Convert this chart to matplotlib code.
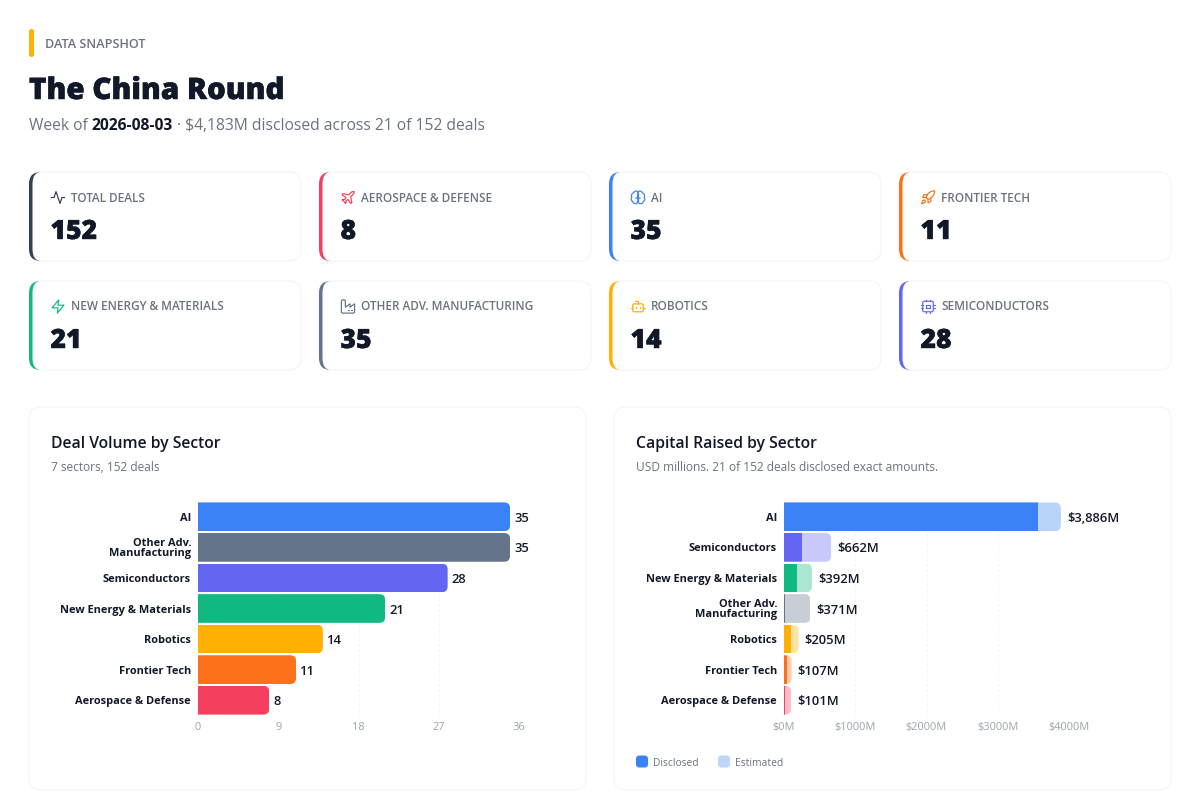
import re
import matplotlib
matplotlib.use("Agg")
import matplotlib.pyplot as plt
from matplotlib.patches import FancyBboxPatch, PathPatch
from matplotlib.path import Path
from matplotlib import patheffects as pe

plt.rcParams['font.family'] = ['Open Sans', 'DejaVu Sans']

# ---- data ----
title = "The China Round"
kicker = "DATA SNAPSHOT"
week = "2026-08-03"
sub_a = "Week of"
sub_b = "· $4,183M disclosed across 21 of 152 deals"

card_labels = ["TOTAL DEALS", "AEROSPACE & DEFENSE", "AI", "FRONTIER TECH",
               "NEW ENERGY & MATERIALS", "OTHER ADV. MANUFACTURING", "ROBOTICS", "SEMICONDUCTORS"]
card_values = [152, 8, 35, 11, 21, 35, 14, 28]
card_colors = ["#334155", "#f43f5e", "#3b82f6", "#f97316", "#10b981", "#64748b", "#ffb000", "#6366f1"]
card_icons = ["activity", "plane", "brain", "rocket", "zap", "factory", "bot", "cpu"]

vol_sectors = ["AI", "Other Adv.\nManufacturing", "Semiconductors", "New Energy & Materials",
               "Robotics", "Frontier Tech", "Aerospace & Defense"]
vol_values = [35, 35, 28, 21, 14, 11, 8]
vol_colors = ["#3b82f6", "#64748b", "#6366f1", "#10b981", "#ffb000", "#fb7019", "#f43f5e"]
vol_ticks = [0, 9, 18, 27, 36]

cap_sectors = ["AI", "Semiconductors", "New Energy & Materials", "Other Adv.\nManufacturing",
               "Robotics", "Frontier Tech", "Aerospace & Defense"]
cap_total = [3886, 662, 392, 371, 205, 107, 101]
cap_disclosed = [3569, 257, 178, 20, 98, 47, 14]
cap_colors = ["#3b82f6", "#6366f1", "#10b981", "#64748b", "#ffb000", "#fb7019", "#f43f5e"]
cap_ticks = [0, 1000, 2000, 3000, 4000]

INK = "#111827"
GREY = "#6b7280"
TICK = "#9ca3af"
EDGE = "#f3f4f6"

ICONS = {
    "activity": ["M22 12H18L15 21L9 3L6 12H2"],
    "plane": ["M17.8 19.2L16 11l3.5-3.5C21 6 21.5 4 21 3c-1-.5-3 0-4.5 1.5L13 8L4.8 6.2c-.5-.1-.9.1-1.1.5l-.3.5c-.2.5-.1 1 .3 1.3L9 12l-2 3H4l-1 1l3 2l2 3l1-1v-3l3-2l3.5 5.3c.3.4.8.5 1.3.3l.5-.2c.4-.3.6-.7.5-1.2Z"],
    "brain": ["M12 5C12 1.500 6.500 1 5.500 5C2.500 5.500 1 9 2.800 11.500C1 13.500 1.500 17 4 18C4.500 22 10.500 23 12 18.500Z",
              "M12 5C12 1.500 17.500 1 18.500 5C21.500 5.500 23 9 21.200 11.500C23 13.500 22.500 17 20 18C19.500 22 13.500 23 12 18.500Z",
              "M12 5V18", "M8.500 13C10.500 13 12 12 12 9.500", "M15.500 13C13.500 13 12 12 12 9.500"],
    "rocket": ["M4.5 16.5c-1.500 1.260-2 5-2 5s3.740-.5 5-2c.710-.840.7-2.130-.090-2.910c-.8-.8-2.100-.9-2.910-.090Z",
               "M12 15l-3-3c.5-1.400 1.200-2.700 2-3.950C13 4 17.500 2 22 2c0 2.720-.780 7.500-6 11c-1.300.8-2.600 1.500-4 2Z",
               "M9 12H4c0 0 .550-3.030 2-4c1.620-1.080 5 0 5 0", "M12 15v5c0 0 3.030-.550 4-2c1.080-1.620 0-5 0-5"],
    "zap": ["M13 2L3 14H12L11 22L21 10H12Z"],
    "factory": ["M2 20C2 21 3 22 4 22H20C21 22 22 21 22 20V8L15 13V8L8 13V4C8 3 7 2 6 2H4C3 2 2 3 2 4Z",
                "M17 18h1", "M12 18h1", "M7 18h1"],
    "bot": ["M12 8V4H8", "M6 8H18C19 8 20 9 20 10V18C20 19 19 20 18 20H6C5 20 4 19 4 18V10C4 9 5 8 6 8Z",
            "M2 14h2", "M20 14h2", "M15 13v2", "M9 13v2"],
    "cpu": ["M6 4H18C19 4 20 5 20 6V18C20 19 19 20 18 20H6C5 20 4 19 4 18V6C4 5 5 4 6 4Z",
            "M9 9H15V15H9Z", "M15 2v2", "M15 20v2", "M2 15h2", "M2 9h2", "M20 15h2", "M20 9h2", "M9 2v2", "M9 20v2"],
}


def px(p):
    return p * 72 / 100


def parse_svg(d):
    tokens = re.findall(r"[A-Za-z]|-?\d*\.?\d+", d)
    i, x, y, cmd = 0, 0.0, 0.0, None
    sx, sy = 0.0, 0.0
    verts, codes = [], []
    while i < len(tokens):
        if tokens[i].isalpha():
            cmd = tokens[i]
            i += 1
            if cmd in "Zz":
                verts.append((sx, sy))
                codes.append(Path.CLOSEPOLY)
                x, y = sx, sy
                continue
        rel = cmd.islower()
        c = cmd.upper()
        if c == "S":
            # smooth curve: written as an ordinary line for these tiny icons
            a = [float(t) for t in tokens[i:i + 4]]
            i += 4
            ox, oy = (x, y) if rel else (0.0, 0.0)
            x, y = a[2] + ox, a[3] + oy
            verts.append((x, y))
            codes.append(Path.LINETO)
            continue
        n = {"M": 2, "L": 2, "H": 1, "V": 1, "C": 6}[c]
        a = [float(t) for t in tokens[i:i + n]]
        i += n
        ox, oy = (x, y) if rel else (0.0, 0.0)
        if c == "M":
            x, y = a[0] + ox, a[1] + oy
            sx, sy = x, y
            verts.append((x, y))
            codes.append(Path.MOVETO)
        elif c == "L":
            x, y = a[0] + ox, a[1] + oy
            verts.append((x, y))
            codes.append(Path.LINETO)
        elif c == "H":
            x = a[0] + ox
            verts.append((x, y))
            codes.append(Path.LINETO)
        elif c == "V":
            y = a[0] + oy
            verts.append((x, y))
            codes.append(Path.LINETO)
        elif c == "C":
            for k in (0, 2, 4):
                verts.append((a[k] + ox, a[k + 1] + oy))
                codes.append(Path.CURVE4)
            x, y = verts[-1]
    return verts, codes


fig = plt.figure(figsize=(12, 8.01), dpi=100, facecolor="white")
bg = fig.add_axes([0, 0, 1, 1], zorder=0)
bg.set_xlim(0, 1200)
bg.set_ylim(801, 0)
bg.axis("off")


def draw_icon(name, cx, cy, color, s=0.66):
    for d in ICONS[name]:
        v, c = parse_svg(d)
        v = [(cx + (a - 12) * s, cy + (b - 12) * s) for a, b in v]
        bg.add_patch(PathPatch(Path(v, c), fill=False, edgecolor=color, lw=px(1.2),
                               capstyle="round", joinstyle="round", zorder=5))


def rbox(x, y, w, h, r, fc, ec="none", lw=0, z=1):
    p = FancyBboxPatch((x, y), w, h, boxstyle=f"round,pad=0,rounding_size={r}",
                       facecolor=fc, edgecolor=ec, linewidth=lw, zorder=z)
    bg.add_patch(p)
    return p


def crescent(x, y, h, r, t, color):
    C3 = Path.CURVE3
    verts = [(x + r, y), (x, y), (x, y + r), (x, y + h - r), (x, y + h), (x + r, y + h),
             (x + t, y + h), (x + t, y + h - r), (x + t, y + r), (x + t, y), (x + r, y), (x + r, y)]
    codes = [Path.MOVETO, C3, C3, Path.LINETO, C3, C3, C3, C3, Path.LINETO, C3, C3, Path.CLOSEPOLY]
    bg.add_patch(PathPatch(Path(verts, codes), facecolor=color, edgecolor="none", zorder=3))


# ---- header ----
rbox(29, 29, 5, 28, 2.5, "#ffb000")
bg.text(45, 47.5, kicker, fontsize=px(12.6), fontweight=600, color=GREY, va="baseline", ha="left")
bg.text(29, 99, title, fontsize=px(29.6), fontweight=800, color=INK, va="baseline", ha="left",
        path_effects=[pe.withStroke(linewidth=0.35, foreground=INK)])

r = fig.canvas.get_renderer()
t1 = bg.text(29, 130, sub_a, fontsize=px(15.6), color=GREY, va="baseline", ha="left")
x1 = t1.get_window_extent(r).x1 + 4
t2 = bg.text(x1, 130, week, fontsize=px(15.6), fontweight=700, color=INK, va="baseline", ha="left")
x2 = t2.get_window_extent(r).x1 + 3.5
bg.text(x2, 130, sub_b, fontsize=px(15.6), color=GREY, va="baseline", ha="left")

# ---- stat cards ----
card_x = [29, 319, 609, 899]
card_y = [172, 281]
for i, (lab, val, col, ic) in enumerate(zip(card_labels, card_values, card_colors, card_icons)):
    x, y = card_x[i % 4], card_y[i // 4]
    rbox(x, y, 272, 89, 12, "white", EDGE, px(1))
    crescent(x, y, 89, 12, 3.5, col)
    draw_icon(ic, x + 29, y + 25.5, col)
    bg.text(x + 42, y + 29.5, lab, fontsize=px(11.8), fontweight=600, color=GREY, va="baseline", ha="left")
    bg.text(x + 21.5, y + 67, str(val), fontsize=px(26.5), fontweight=800, color=INK, va="baseline", ha="left",
            path_effects=[pe.withStroke(linewidth=0.3, foreground=INK)])

# ---- chart cards ----
panels = [(29, "Deal Volume by Sector", "7 sectors, 152 deals"),
          (614, "Capital Raised by Sector", "USD millions. 21 of 152 deals disclosed exact amounts.")]
for x, t, s in panels:
    rbox(x, 407, 557, 383, 12, "white", EDGE, px(1))
    bg.text(x + 22, 448, t, fontsize=px(15.8), fontweight=600, color=INK, va="baseline", ha="left")
    bg.text(x + 22, 471, s, fontsize=px(11.9), color=GREY, va="baseline", ha="left")


def chart_axes(left_px, right_px, xmax, ticks, ticklabels, labels):
    top, bottom = 501.5, 715.5
    ax = fig.add_axes([left_px / 1200, 1 - bottom / 801, (right_px - left_px) / 1200, (bottom - top) / 801], zorder=2)
    ax.patch.set_alpha(0)
    ax.set_xlim(0, xmax)
    ax.set_ylim(6.5, -0.5)
    ax.set_xticks(ticks, ticklabels)
    ax.set_yticks(range(len(labels)), labels)
    for sp in ax.spines.values():
        sp.set_visible(False)
    ax.tick_params(axis="x", length=0, pad=5, labelsize=px(11), labelcolor=TICK)
    ax.tick_params(axis="y", length=0, pad=5, labelsize=px(11.05), labelcolor=INK)
    for lb in ax.get_yticklabels():
        lb.set_fontweight(700)
        lb.set_linespacing(0.92)
    ax.set_axisbelow(True)
    ax.grid(axis="x", color="#eef0f2", lw=px(1), ls=(0, (2, 3)))
    ax.grid(axis="y", visible=False)
    return ax


def rounded_clip(ax, y, width, h, pxx, pxy, rad=6):
    rx, ry = rad / pxx, rad / pxy
    return FancyBboxPatch((-2 * rx, y - h / 2), width + 2 * rx, h,
                          boxstyle=f"round,pad=0,rounding_size={rx}", mutation_aspect=ry / rx,
                          transform=ax.transData)


H = 0.94
# left chart
ax1 = chart_axes(198, 519, 36, vol_ticks, [str(t) for t in vol_ticks], vol_sectors)
px1 = (519 - 198) / 36
py = (715.5 - 501.5) / 7
for i, (v, c) in enumerate(zip(vol_values, vol_colors)):
    b = ax1.barh(i, v, height=H, color=c, zorder=3)[0]
    b.set_clip_path(rounded_clip(ax1, i, v, H, px1, py))
    ax1.annotate(str(v), (v, i), xytext=(4 * 0.72, 0), textcoords="offset points", va="center_baseline", ha="left",
                 fontsize=px(13), fontweight=600, color=INK)

# right chart
ax2 = chart_axes(784, 1069, 4000, cap_ticks, [f"${t}M" for t in cap_ticks], cap_sectors)
px2 = (1069 - 784) / 4000
for i, (tot, dis, c) in enumerate(zip(cap_total, cap_disclosed, cap_colors)):
    clip = rounded_clip(ax2, i, tot, H, px2, py)
    b1 = ax2.barh(i, dis, height=H, color=c, zorder=3)[0]
    b2 = ax2.barh(i, tot - dis, left=dis, height=H, color=c, alpha=0.35, zorder=3)[0]
    b1.set_clip_path(clip)
    b2.set_clip_path(clip)
    ax2.annotate(f"${tot:,}M", (tot, i), xytext=(6 * 0.72, 0), textcoords="offset points", va="center_baseline", ha="left",
                 fontsize=px(13), fontweight=600, color=INK, annotation_clip=False)

# legend
rbox(636, 755.5, 12, 12, 3.5, "#3b82f6")
rbox(718, 755.5, 12, 12, 3.5, "#bfd6fb")
bg.text(652.5, 765.5, "Disclosed", fontsize=px(10.3), color=GREY, va="baseline", ha="left")
bg.text(735, 765.5, "Estimated", fontsize=px(10.3), color=GREY, va="baseline", ha="left")

fig.savefig("out.png", dpi=100, facecolor="white")
